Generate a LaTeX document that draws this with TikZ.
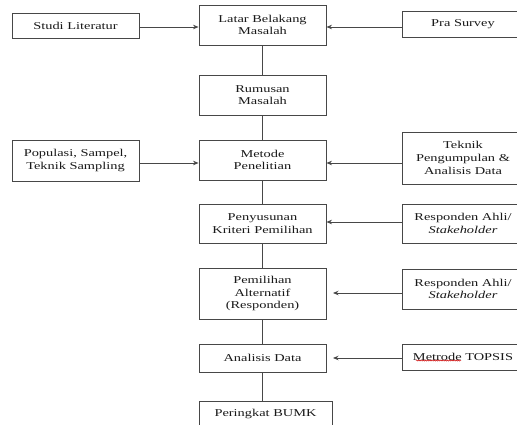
\documentclass[tikz,border=0pt]{standalone}
\usepackage{fontspec}
\setmainfont[FakeStretch=1.37]{Liberation Serif}
\usetikzlibrary{arrows.meta,decorations.pathmorphing}
\begin{document}
\begin{tikzpicture}[x=1pt,y=-1pt,
  box/.style={draw=black!72,line width=0.9pt,rectangle,inner sep=0pt,align=center,
    minimum width=127pt,font=\fontsize{10.5}{12.6}\selectfont,text=black!90},
  rbox/.style={box,minimum width=122pt},
  conn/.style={draw=black!72,line width=0.9pt},
  arr/.style={conn,-{Stealth[length=5.5pt,width=4.5pt]}},
  wavy/.style={draw=red!80!black,line width=0.5pt,decorate,
    decoration={snake,amplitude=0.6pt,segment length=2.2pt}}]
\useasboundingbox (0,0) rectangle (517,424);
\clip (0,0) rectangle (517,424);
\fill[white] (0,0) rectangle (517,424);

\node[box,minimum height=25pt] (studi) at (75.5,25.5) {Studi Literatur};
\node[box,minimum height=40pt] (latar) at (262.5,25) {Latar Belakang\\Masalah};
\node[rbox,minimum height=26pt] (pra) at (463,24) {Pra Survey};

\node[box,minimum height=40pt] (rum) at (262.5,95) {Rumusan\\Masalah};

\node[box,minimum height=41pt] (pop) at (75.5,160.5) {Populasi, Sampel,\\Teknik Sampling};
\node[box,minimum height=40pt] (met) at (262.5,160) {Metode\\Penelitian};
\node[rbox,minimum height=52pt] (tek) at (463,158) {Teknik\\Pengumpulan \&\\Analisis Data};

\node[box,minimum height=39pt] (peny) at (262.5,223.5) {Penyusunan\\Kriteri Pemilihan};
\node[rbox,minimum height=39pt] (resp1) at (463,223.5) {Responden Ahli/\\\textit{Stakeholder}};

\node[box,minimum height=51pt] (pem) at (262.5,293.5) {Pemilihan\\Alternatif\\(Responden)};
\node[rbox,minimum height=40pt] (resp2) at (463,289) {Responden Ahli/\\\textit{Stakeholder}};

\node[box,minimum height=28pt] (anal) at (262.5,358) {Analisis Data};
\node[rbox,minimum height=26pt] (top) at (463,357) {Metrode TOPSIS};

\node[box,minimum width=133pt,minimum height=26pt] (per) at (265.5,414) {Peringkat BUMK};

% arrow levels
\coordinate (y1) at (0,27);
\coordinate (y2) at (0,163);
\coordinate (y3) at (0,222);
\coordinate (y4) at (0,293);
\coordinate (y5) at (0,358);
\coordinate (g4) at (333,293);
\coordinate (g5) at (333,358);

% vertical connectors
\draw[conn] (latar.south) -- (rum.north);
\draw[conn] (rum.south) -- (met.north);
\draw[conn] (met.south) -- (peny.north);
\draw[conn] (peny.south) -- (pem.north);
\draw[conn] (pem.south) -- (anal.north);
\draw[conn] (anal.south) -- (latar.south |- per.north);

% horizontal arrows
\draw[arr] (studi.east |- y1) -- (latar.west |- y1);
\draw[arr] (pra.west |- y1) -- (latar.east |- y1);
\draw[arr] (pop.east |- y2) -- (met.west |- y2);
\draw[arr] (tek.west |- y2) -- (met.east |- y2);
\draw[arr] (resp1.west |- y3) -- (peny.east |- y3);
\draw[arr] (resp2.west |- y4) -- (g4);
\draw[arr] (top.west |- y5) -- (g5);

% spell-check underline
\draw[wavy] (416,360.5) -- (461,360.5);
\end{tikzpicture}
\end{document}
